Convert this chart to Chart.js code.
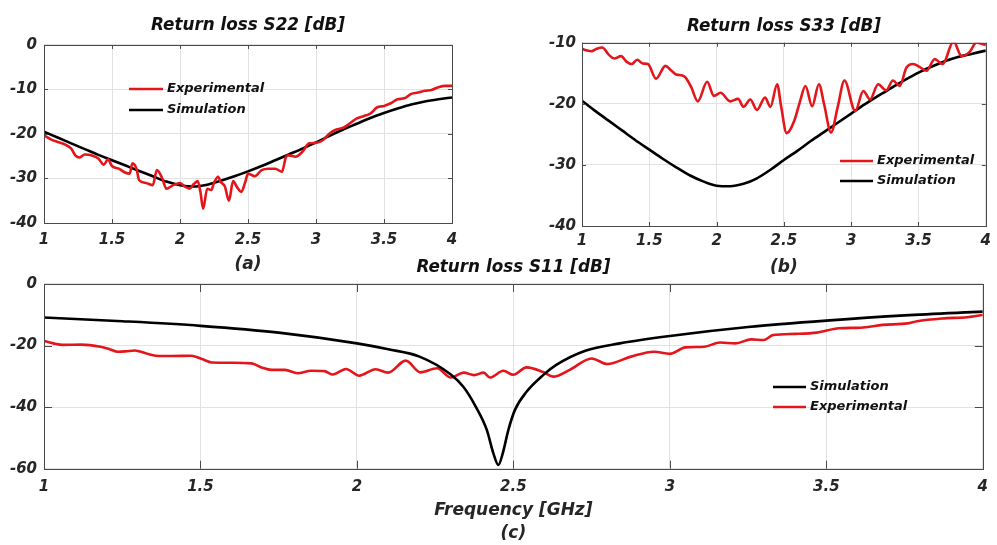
<!DOCTYPE html>
<html>
<head>
<meta charset="utf-8">
<script src="https://cdn.jsdelivr.net/npm/chart.js@4/dist/chart.umd.min.js"></script>
<style>
    body { margin: 0; background: #fff; width: 997px; height: 545px; overflow: hidden; position: relative; }
    .box { position: absolute; }
</style>
</head>
<body>
<div class="box" style="left:0;top:0;width:470px;height:275px"><canvas id="chartA"></canvas></div>
<div class="box" style="left:500px;top:0;width:497px;height:278px"><canvas id="chartB"></canvas></div>
<div class="box" style="left:0;top:255px;width:997px;height:290px"><canvas id="chartC"></canvas></div>
<script>
// Values (frequency in GHz, return loss in dB)

// (a) S22
const freqSimA = [1.0, 1.1, 1.2, 1.3, 1.4, 1.5, 1.6, 1.7, 1.8, 1.9, 2.0, 2.1, 2.2, 2.3, 2.4, 2.5,
    2.6, 2.7, 2.8, 2.9, 3.0, 3.1, 3.2, 3.3, 3.4, 3.5, 3.6, 3.7, 3.8, 3.9, 4.0];
const simA = [-19.5, -20.8, -22.1, -23.4, -24.7, -25.9, -27.1, -28.3, -29.5, -30.7, -31.5, -31.8, -31.4, -30.5, -29.5, -28.4,
    -27.2, -25.9, -24.6, -23.3, -21.9, -20.4, -19.0, -17.7, -16.4, -15.3, -14.3, -13.4, -12.7, -12.2, -11.8];
const freqExpA = [1.0, 1.05, 1.1, 1.15, 1.2, 1.23, 1.26, 1.3, 1.35, 1.4, 1.44, 1.47, 1.5, 1.55, 1.6,
    1.63, 1.65, 1.68, 1.7, 1.75, 1.8, 1.83, 1.87, 1.9, 1.95, 2.0, 2.03, 2.07, 2.1, 2.13,
    2.15, 2.17, 2.2, 2.23, 2.25, 2.28, 2.3, 2.33, 2.36, 2.39, 2.42, 2.45, 2.48, 2.5, 2.55,
    2.6, 2.65, 2.7, 2.75, 2.78, 2.8, 2.85, 2.9, 2.95, 3.0, 3.05, 3.1, 3.15, 3.2, 3.25,
    3.3, 3.35, 3.4, 3.45, 3.5, 3.55, 3.6, 3.65, 3.7, 3.75, 3.8, 3.85, 3.9, 3.95, 4.0];
const expA = [-20.3, -21.2, -21.8, -22.3, -23.3, -24.8, -25.3, -24.6, -24.8, -25.5, -26.9, -25.7, -27.2, -27.8, -28.7,
    -28.9, -26.6, -27.8, -30.4, -31.0, -31.5, -28.1, -30.0, -32.3, -31.5, -31.0, -31.7, -32.3, -31.3, -30.6,
    -33.0, -36.8, -32.3, -32.6, -31.0, -29.6, -30.8, -31.8, -35.0, -30.6, -32.0, -33.0, -30.8, -28.9, -29.5,
    -28.1, -27.8, -27.8, -28.5, -25.1, -24.8, -25.1, -24.0, -22.1, -22.0, -21.4, -19.9, -19.0, -18.6, -17.6,
    -16.5, -16.0, -15.4, -14.0, -13.7, -13.1, -12.2, -12.0, -11.0, -10.7, -10.3, -10.1, -9.5, -9.2, -9.2];

// (b) S33
const freqSimB = [1.0, 1.1, 1.2, 1.3, 1.4, 1.5, 1.6, 1.7, 1.8, 1.9, 2.0, 2.1, 2.2, 2.3, 2.4, 2.5,
    2.6, 2.7, 2.8, 2.9, 3.0, 3.1, 3.2, 3.3, 3.4, 3.5, 3.6, 3.7, 3.8, 3.9, 4.0];
const simB = [-19.5, -21.2, -22.8, -24.4, -26.0, -27.5, -29.0, -30.4, -31.7, -32.7, -33.4, -33.5, -33.1, -32.2, -30.8, -29.2,
    -27.7, -26.1, -24.6, -23.1, -21.6, -20.1, -18.7, -17.4, -16.1, -14.9, -13.9, -13.0, -12.3, -11.8, -11.3];
const freqExpB = [1.0, 1.04, 1.07, 1.11, 1.15, 1.2, 1.24, 1.29, 1.33, 1.37, 1.41, 1.45, 1.49, 1.55, 1.62,
    1.66, 1.70, 1.76, 1.81, 1.86, 1.93, 1.98, 2.03, 2.10, 2.16, 2.20, 2.25, 2.30, 2.36, 2.40,
    2.45, 2.48, 2.52, 2.58, 2.62, 2.66, 2.71, 2.76, 2.80, 2.85, 2.90, 2.95, 3.03, 3.09, 3.14,
    3.20, 3.26, 3.31, 3.36, 3.41, 3.46, 3.51, 3.56, 3.62, 3.68, 3.76, 3.82, 3.88, 3.93, 4.0];
const expB = [-11.0, -11.3, -11.4, -11.0, -10.8, -12.0, -12.6, -12.2, -13.1, -13.5, -12.8, -13.4, -13.5, -15.9, -13.8,
    -14.5, -15.2, -15.5, -17.2, -19.6, -16.4, -18.7, -18.2, -19.6, -19.2, -20.5, -19.3, -21.0, -19.0, -20.5,
    -16.8, -20.5, -24.8, -22.6, -19.6, -17.1, -20.4, -16.8, -20.2, -24.7, -20.5, -16.2, -21.2, -17.9, -19.3,
    -16.8, -17.8, -16.2, -17.1, -14.1, -13.5, -14.0, -14.6, -12.7, -13.5, -9.8, -12.2, -11.5, -10.0, -10.4];

// (c) S11
const freqSimC = [1.0, 1.25, 1.5, 1.75, 2.0, 2.1, 2.2, 2.3, 2.34, 2.38, 2.415, 2.436, 2.452, 2.466, 2.484,
    2.505, 2.542, 2.595, 2.637, 2.73, 2.84, 3.0, 3.25, 3.5, 3.75, 4.0];
const simC = [-10.9, -12.1, -13.6, -15.8, -19.3, -21.2, -23.6, -29.4, -33.4, -39.9, -47.4, -55.0, -58.8, -55.0, -47.4,
    -40.9, -35.0, -29.6, -26.3, -21.7, -19.3, -16.9, -14.0, -11.9, -10.2, -9.0];
const freqExpC = [1.0, 1.03, 1.06, 1.12, 1.18, 1.21, 1.235, 1.26, 1.29, 1.325, 1.357, 1.41, 1.47, 1.505, 1.536,
    1.6, 1.663, 1.695, 1.727, 1.77, 1.81, 1.854, 1.896, 1.923, 1.965, 2.007, 2.06, 2.10, 2.156, 2.203,
    2.256, 2.30, 2.341, 2.375, 2.405, 2.425, 2.468, 2.50, 2.542, 2.595, 2.627, 2.68, 2.75, 2.80, 2.876,
    2.95, 3.0, 3.05, 3.11, 3.16, 3.21, 3.26, 3.30, 3.33, 3.40, 3.47, 3.54, 3.61, 3.68, 3.76,
    3.79, 3.87, 3.95, 4.0];
const expC = [-18.5, -19.3, -19.8, -19.7, -20.4, -21.2, -22.0, -21.9, -21.6, -22.5, -23.3, -23.4, -23.3, -24.4, -25.5,
    -25.6, -25.8, -27.1, -27.9, -27.9, -29.0, -28.2, -28.3, -29.4, -27.6, -29.8, -27.7, -28.8, -24.9, -28.7,
    -27.4, -30.4, -28.8, -29.6, -28.8, -30.4, -28.2, -29.5, -27.1, -28.6, -30.1, -27.9, -24.2, -26.0, -23.6,
    -22.0, -22.7, -20.6, -20.4, -19.0, -19.3, -18.0, -18.2, -16.6, -16.2, -15.8, -14.4, -14.2, -13.3, -12.8,
    -12.1, -11.2, -10.8, -10.1];

const FONT = "'DejaVu Sans', Verdana, sans-serif";
const RED = '#e3161c';
const BLACK = '#000000';

Chart.defaults.font.family = FONT;
Chart.defaults.font.size = 15;
Chart.defaults.font.weight = 'bold';
Chart.defaults.font.style = 'italic';
Chart.defaults.color = '#262626';

function toPoints(xs, ys) {
    return xs.map((x, i) => ({ x: x, y: ys[i] }));
}

function series(label, color, xs, ys) {
    return {
        label: label,
        data: toPoints(xs, ys),
        borderColor: color,
        borderWidth: 2.6,
        pointRadius: 0,
        fill: false,
        cubicInterpolationMode: 'monotone'
    };
}

// Box around the plot + short inner tick marks (matlab look)
function framePlugin(tickLen) {
    return {
        id: 'frame',
        afterDatasetsDraw(chart) {
            const { ctx, chartArea: a, scales } = chart;
            ctx.save();
            ctx.strokeStyle = '#4a4a4a';
            ctx.lineWidth = 1;
            ctx.beginPath();
            scales.x.ticks.forEach(t => {
                const px = Math.round(scales.x.getPixelForValue(t.value)) + 0.5;
                ctx.moveTo(px, a.bottom); ctx.lineTo(px, a.bottom - tickLen);
                ctx.moveTo(px, a.top); ctx.lineTo(px, a.top + tickLen);
            });
            scales.y.ticks.forEach(t => {
                const py = Math.round(scales.y.getPixelForValue(t.value)) + 0.5;
                ctx.moveTo(a.left, py); ctx.lineTo(a.left + tickLen, py);
                ctx.moveTo(a.right, py); ctx.lineTo(a.right - tickLen, py);
            });
            ctx.stroke();
            ctx.strokeRect(Math.round(a.left) + 0.5, Math.round(a.top) + 0.5,
                Math.round(a.width), Math.round(a.height));
            ctx.restore();
        }
    };
}

// Legend drawn inside the plot, no box
function legendPlugin(pos) {
    return {
        id: 'inlineLegend',
        afterDatasetsDraw(chart) {
            const ctx = chart.ctx;
            ctx.save();
            ctx.font = 'italic bold 13px ' + FONT;
            ctx.textBaseline = 'middle';
            pos.rows.forEach((y, i) => {
                const ds = chart.data.datasets[i];
                ctx.strokeStyle = ds.borderColor;
                ctx.lineWidth = 2.6;
                ctx.beginPath();
                ctx.moveTo(pos.x0, y);
                ctx.lineTo(pos.x1, y);
                ctx.stroke();
                ctx.fillStyle = '#111';
                ctx.fillText(ds.label, pos.x1 + 4, y);
            });
            ctx.restore();
        }
    };
}

function makeChart(id, cfg) {
    return new Chart(document.getElementById(id), {
        type: 'line',
        data: { datasets: cfg.datasets },
        options: {
            responsive: true,
            maintainAspectRatio: false,
            animation: false,
            layout: { padding: { left: 0, right: cfg.padRight, top: 0, bottom: 0 } },
            plugins: {
                legend: { display: false },
                tooltip: { enabled: false },
                title: {
                    display: true,
                    text: cfg.title,
                    fullSize: false,
                    color: '#111',
                    font: { size: 16.8, lineHeight: 1.2 },
                    padding: cfg.titlePad
                }
            },
            scales: {
                x: {
                    type: 'linear',
                    min: 1,
                    max: 4,
                    ticks: { stepSize: 0.5, padding: cfg.xPad, callback: v => String(v) },
                    grid: { color: '#e2e2e2', drawTicks: false },
                    border: { display: false },
                    title: {
                        display: true,
                        text: cfg.xTitle,
                        color: '#262626',
                        font: { size: 17, lineHeight: cfg.xTitleLH },
                        padding: { top: 0, bottom: 0 }
                    },
                    afterFit: s => { s.height = cfg.xHeight; }
                },
                y: {
                    min: cfg.yMin,
                    max: cfg.yMax,
                    ticks: { stepSize: cfg.yStep, padding: cfg.yPad },
                    grid: { color: '#e2e2e2', drawTicks: false },
                    border: { display: false },
                    afterFit: s => { s.width = cfg.yWidth; }
                }
            }
        },
        plugins: [framePlugin(cfg.tickLen), legendPlugin(cfg.legend)]
    });
}

makeChart('chartA', {
    datasets: [series('Experimental', RED, freqExpA, expA), series('Simulation', BLACK, freqSimA, simA)],
    title: 'Return loss S22 [dB]',
    titlePad: { top: 15.9, bottom: 8.9 },
    xTitle: '(a)', xTitleLH: 1.2, xHeight: 52, xPad: 8,
    yMin: -40, yMax: 0, yStep: 10, yPad: 7, yWidth: 44,
    padRight: 18, tickLen: 4,
    legend: { x0: 129, x1: 163, rows: [89, 110] }
});

makeChart('chartB', {
    datasets: [series('Experimental', RED, freqExpB, expB), series('Simulation', BLACK, freqSimB, simB)],
    title: 'Return loss S33 [dB]',
    titlePad: { top: 16.4, bottom: 6.1 },
    xTitle: '(b)', xTitleLH: 1.2, xHeight: 52, xPad: 6,
    yMin: -40, yMax: -10, yStep: 10, yPad: 6, yWidth: 82,
    padRight: 8, tickLen: 4,
    legend: { x0: 340, x1: 373, rows: [161, 181] }
});

makeChart('chartC', {
    datasets: [series('Simulation', BLACK, freqSimC, simC), series('Experimental', RED, freqExpC, expC)],
    title: 'Return loss S11 [dB]',
    titlePad: { top: 2.9, bottom: 5.9 },
    xTitle: ['Frequency [GHz]', '(c)'], xTitleLH: 1.353, xHeight: 76.3, xPad: 9,
    yMin: -60, yMax: 0, yStep: 20, yPad: 7, yWidth: 44,
    padRight: 8, tickLen: 8,
    legend: { x0: 773, x1: 806, rows: [132, 152] }
});
</script>
</body>
</html>
